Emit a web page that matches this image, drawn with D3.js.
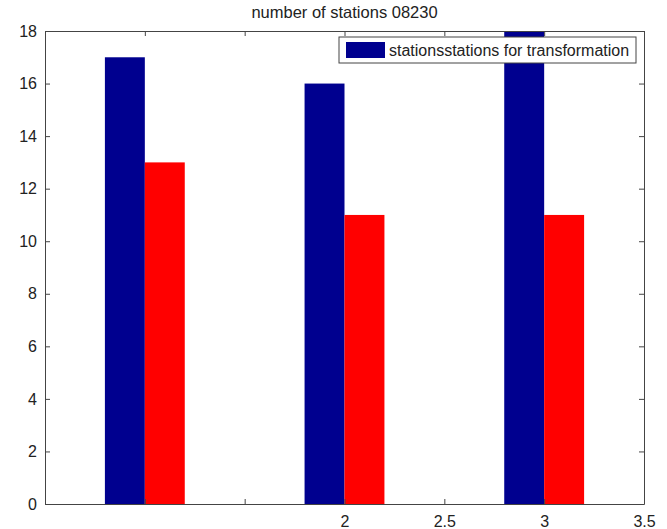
<!DOCTYPE html>
<html>
<head>
<meta charset="utf-8">
<script src="https://cdn.jsdelivr.net/npm/d3@7"></script>
<style>
  body { margin: 0; background: #fff; }
  text { font-family: "Liberation Sans", Arial, sans-serif; }
</style>
</head>
<body>
<div id="chart"></div>
<script>
// data
const groups = [1, 2, 3];
const stations = [17, 16, 18];
const transformation = [13, 11, 11];
const xTicks = [0.5, 1, 1.5, 2, 2.5, 3, 3.5];
const xTickLabels = ["", "", "", "2", "2.5", "3", "3.5"];
const yTicks = [0, 2, 4, 6, 8, 10, 12, 14, 16, 18];
const legendLabel = "stationsstations for transformation";
const title = "number of stations 08230";

const W = 667, H = 529;
const margin = { top: 31, right: 23, bottom: 25, left: 45 };
const width = W - margin.left - margin.right;
const height = H - margin.top - margin.bottom;

const svg = d3.select("#chart")
  .append("svg")
  .attr("width", W)
  .attr("height", H);

const g = svg.append("g")
  .attr("transform", "translate(" + margin.left + "," + margin.top + ")");

const x = d3.scaleLinear().domain([0.5, 3.5]).range([0, width]);
const y = d3.scaleLinear().domain([0, 18]).range([height, 0]);
const barW = 0.2;

// bars
g.selectAll(".blue")
  .data(groups)
  .enter().append("rect")
  .attr("x", (d) => x(d - barW))
  .attr("y", (d, i) => y(stations[i]))
  .attr("width", x(barW) - x(0))
  .attr("height", (d, i) => y(0) - y(stations[i]))
  .attr("fill", "#00008f");

g.selectAll(".red")
  .data(groups)
  .enter().append("rect")
  .attr("x", (d) => x(d))
  .attr("y", (d, i) => y(transformation[i]))
  .attr("width", x(barW) - x(0))
  .attr("height", (d, i) => y(0) - y(transformation[i]))
  .attr("fill", "#ff0000");

// axes, MATLAB style: inward ticks, box
const axisColor = "#444";
const fmt = (d, i) => xTickLabels[i];

const xb = g.append("g")
  .attr("transform", "translate(0," + height + ")")
  .call(d3.axisBottom(x).tickValues(xTicks).tickFormat(fmt).tickSizeInner(-5).tickSizeOuter(0).tickPadding(12));
const xt = g.append("g")
  .call(d3.axisTop(x).tickValues(xTicks).tickFormat("").tickSizeInner(-5).tickSizeOuter(0));
const yl = g.append("g")
  .call(d3.axisLeft(y).tickValues(yTicks).tickSizeInner(-5).tickSizeOuter(0).tickPadding(8));
const yr = g.append("g")
  .attr("transform", "translate(" + width + ",0)")
  .call(d3.axisRight(y).tickValues(yTicks).tickFormat("").tickSizeInner(-5).tickSizeOuter(0));

[xb, xt, yl, yr].forEach((a) => {
  a.selectAll("path, line").attr("stroke", axisColor);
  a.selectAll("text").attr("fill", "#222").style("font-size", "16px");
});

// title
svg.append("text")
  .attr("x", margin.left + width / 2)
  .attr("y", 18)
  .attr("text-anchor", "middle")
  .style("font-size", "16.5px")
  .attr("fill", "#222")
  .text(title);

// legend
const lg = svg.append("g").attr("transform", "translate(339,37)");
lg.append("rect")
  .attr("width", 297).attr("height", 26)
  .attr("fill", "#fff").attr("stroke", axisColor);
lg.append("rect")
  .attr("x", 7).attr("y", 5).attr("width", 39).attr("height", 16)
  .attr("fill", "#00008f");
lg.append("text")
  .attr("x", 50).attr("y", 19)
  .style("font-size", "16px")
  .attr("fill", "#222")
  .text(legendLabel);
</script>
</body>
</html>
